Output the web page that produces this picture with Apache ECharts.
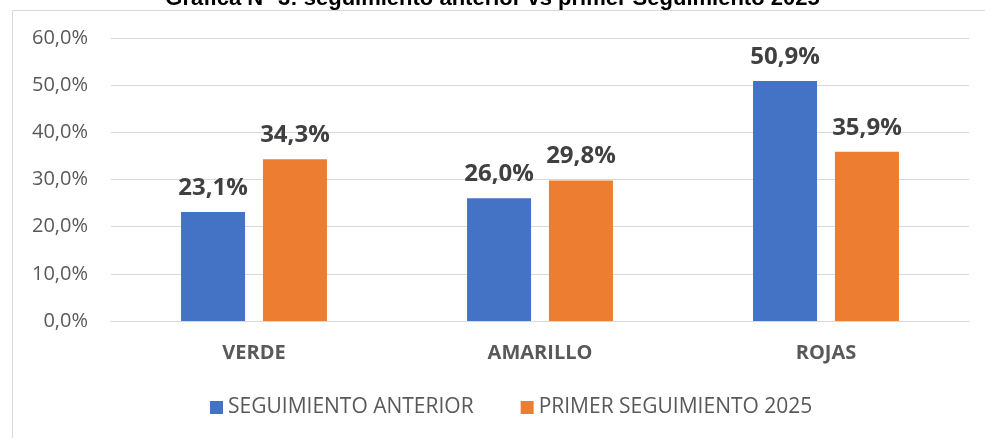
<!DOCTYPE html>
<html>
<head>
<meta charset="utf-8">
<script src="https://cdn.jsdelivr.net/npm/echarts@6/dist/echarts.min.js"></script>
<style>
  html, body { margin: 0; padding: 0; background: #fff; }
  #chart { width: 985px; height: 438px; }
</style>
</head>
<body>
<div id="chart"></div>
<script>
let categories = ["VERDE", "AMARILLO", "ROJAS"];
let seriesNames = ["SEGUIMIENTO ANTERIOR", "PRIMER SEGUIMIENTO 2025"];
let anterior = [23.1, 26.0, 50.9];
let primer2025 = [34.3, 29.8, 35.9];
let yTicks = [0, 10, 20, 30, 40, 50, 60];

let colors = ["#4472C4", "#ED7D31"];
let pct = (v) => v.toFixed(1).replace(".", ",") + "%";

let myChart = echarts.init(document.getElementById("chart"));
let option = {
  animation: false,
  color: colors,
  title: {
    text: "Gráfica N° 3: seguimiento anterior vs primer Seguimiento 2025",
    left: "center",
    top: -17,
    textStyle: {
      fontFamily: "Liberation Sans",
      fontWeight: "bold",
      fontSize: 22,
      color: "#000",
    },
  },
  graphic: [
    {
      type: "rect",
      left: 10,
      top: 8,
      shape: { width: 1000, height: 500 },
      style: { fill: "none", stroke: "#d9d9d9", lineWidth: 1 },
      silent: true,
    },
  ],
  grid: {
    left: 111,
    right: 16,
    top: 38,
    bottom: 117,
  },
  legend: {
    bottom: 15,
    left: 205,
    itemWidth: 13,
    itemHeight: 13,
    itemGap: 47,
    icon: "rect",
    textStyle: {
      fontFamily: "Open Sans",
      fontSize: 21,
      color: "#595959",
    },
    data: seriesNames,
  },
  xAxis: {
    type: "category",
    data: categories,
    axisTick: { show: false },
    axisLine: { lineStyle: { color: "#d9d9d9" } },
    axisLabel: {
      margin: 22,
      fontFamily: "Open Sans",
      fontWeight: "bold",
      fontSize: 20,
      color: "#595959",
    },
  },
  yAxis: {
    type: "value",
    min: yTicks[0],
    max: yTicks[yTicks.length - 1],
    interval: 10,
    axisLine: { show: false },
    axisTick: { show: false },
    splitLine: { lineStyle: { color: "#d9d9d9" } },
    axisLabel: {
      margin: 23,
      fontFamily: "Open Sans",
      fontSize: 20,
      color: "#595959",
      formatter: (v) => pct(v),
    },
  },
  series: [
    {
      name: seriesNames[0],
      type: "bar",
      data: anterior,
      barWidth: 64,
      barGap: "28%",
      label: {
        show: true,
        position: "top",
        distance: 12,
        fontFamily: "Open Sans",
        fontWeight: "bold",
        fontSize: 24,
        color: "#404040",
        formatter: (p) => pct(p.value),
      },
    },
    {
      name: seriesNames[1],
      type: "bar",
      data: primer2025,
      barWidth: 64,
      barGap: "28%",
      label: {
        show: true,
        position: "top",
        distance: 12,
        fontFamily: "Open Sans",
        fontWeight: "bold",
        fontSize: 24,
        color: "#404040",
        formatter: (p) => pct(p.value),
      },
    },
  ],
};
option && myChart.setOption(option);
</script>
</body>
</html>
